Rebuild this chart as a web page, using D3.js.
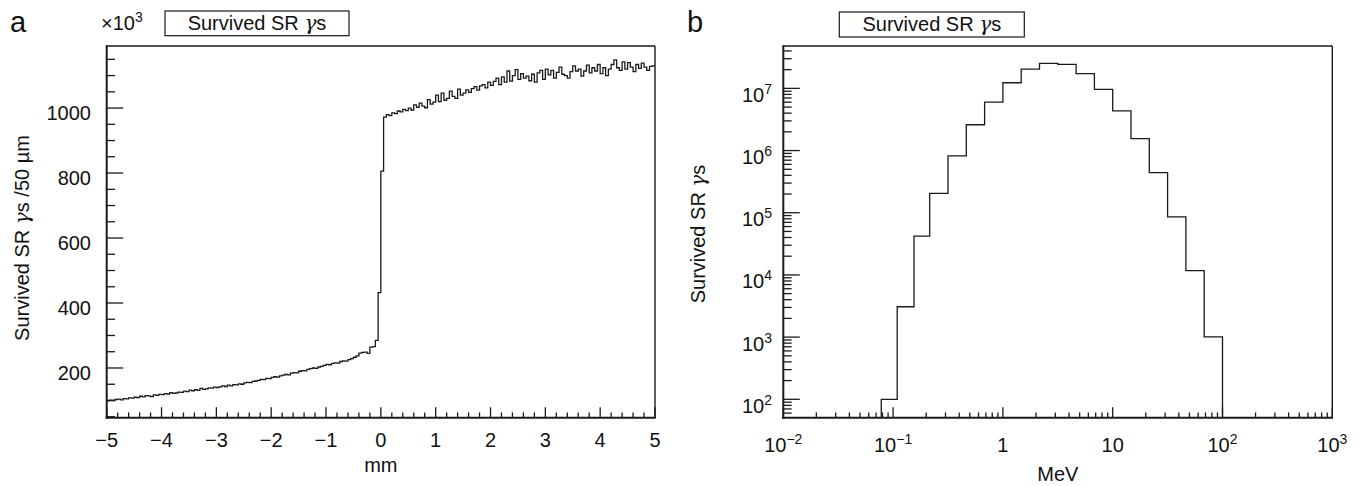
<!DOCTYPE html>
<html>
<head>
<meta charset="utf-8">
<script src="https://cdn.jsdelivr.net/npm/d3@7"></script>
<style>
  html, body { margin: 0; padding: 0; background: #fff; }
  svg { display: block; }
  text { font-family: "Liberation Sans", Arial, sans-serif; fill: #111; }
</style>
</head>
<body>
<svg id="chart" width="1365" height="486"></svg>
<script>
// ---------------- DATA ----------------
// Panel a: survived SR photons per 50 µm bin (x10^3), x from -5 mm to 5 mm
const posRange = [-5, 5];
const binWidthMm = 0.05;
const countsNeg = [
  99,101,100,103,104,102,106,105,108,107,
  110,109,113,111,115,114,112,117,116,119,
  118,121,120,124,122,123,126,125,129,127,
  132,130,133,131,137,134,136,139,138,141,
  140,142,145,143,147,145,149,148,151,150,
  154,156,155,159,160,162,165,164,168,167,
  171,173,172,176,178,180,179,184,186,185,
  190,192,191,196,198,200,199,203,205,208,
  211,210,214,216,215,220,222,221,226,229,
  233,237,246,248,249,245,264,266,285,432
];
const countsPos = [
  806,972,980,977,985,983,991,988,996,992,
  1000,994,1010,1002,1015,1006,1001,1026,1012,1018,
  1040,1020,1046,1024,1030,1052,1036,1030,1058,1040,
  1046,1056,1048,1060,1066,1055,1068,1072,1062,1080,
  1070,1082,1092,1072,1096,1080,1114,1083,1100,1118,
  1088,1106,1092,1098,1084,1104,1080,1108,1116,1088,
  1120,1102,1116,1092,1110,1126,1104,1100,1092,1112,
  1130,1114,1120,1098,1114,1132,1108,1124,1114,1134,
  1106,1124,1100,1120,1134,1148,1124,1116,1142,1120,
  1140,1126,1112,1134,1122,1138,1126,1116,1128,1130
];
const yTicksA = [200, 400, 600, 800, 1000];
const xTicksA = [-5, -4, -3, -2, -1, 0, 1, 2, 3, 4, 5];

// Panel b: survived SR photons per energy bin (MeV)
const energyEdges = [0.078, 0.109, 0.155, 0.2154, 0.3162, 0.4642, 0.6813, 1, 1.468, 2.154,
                     3.162, 4.642, 6.813, 10, 14.68, 21.54, 31.62, 46.42, 68.13, 100];
const photonCounts = [100, 3080, 42200, 2.05e5, 8.2e5, 2.6e6, 6.0e6, 1.23e7, 2.04e7, 2.52e7,
                      2.43e7, 1.72e7, 9.6e6, 4.36e6, 1.55e6, 4.4e5, 8.6e4, 1.17e4, 1010];
const xDecadesB = [-2, -1, 0, 1, 2, 3];
const xLabelsB = [["10", "−2"], ["10", "−1"], ["1", ""], ["10", ""], ["10", "2"], ["10", "3"]];
const yDecadesB = [2, 3, 4, 5, 6, 7];

// text pieces: [text, italic?]
const titleParts = [["Survived SR ", false], ["γ", true], ["s", false]];
const yTitleAParts = [["Survived SR ", false], ["γ", true], ["s /50 µm", false]];
const yTitleBParts = [["Survived SR ", false], ["γ", true], ["s", false]];
const xTitleA = "mm";
const xTitleB = "MeV";

// ---------------- LAYOUT ----------------
const svg = d3.select("#chart");
const ink = "#1a1a1a";
const A = { x0: 106.7, x1: 655, y0: 46, y1: 417.7 };
const B = { x0: 783.3, x1: 1332.3, y0: 46, y1: 417.7 };

const xA = d3.scaleLinear().domain(posRange).range([A.x0, A.x1]);
const yA = d3.scaleLinear().domain([47, 1191]).range([A.y1, A.y0]);
const xB = d3.scaleLog().domain([1e-2, 1e3]).range([B.x0, B.x1]);
const yB = d3.scaleLog().domain([50.6, 4.8e7]).range([B.y1, B.y0]);

function frame(P) {
  const g = svg.append("g");
  g.append("line").attr("x1", P.x0).attr("x2", P.x1).attr("y1", P.y0).attr("y2", P.y0)
    .attr("stroke", ink).attr("stroke-width", 1.4);
  g.append("line").attr("x1", P.x1).attr("x2", P.x1).attr("y1", P.y0).attr("y2", P.y1)
    .attr("stroke", ink).attr("stroke-width", 1.4);
  g.append("line").attr("x1", P.x0).attr("x2", P.x0).attr("y1", P.y0 - 0.7).attr("y2", P.y1 + 1)
    .attr("stroke", ink).attr("stroke-width", 2);
  g.append("line").attr("x1", P.x0 - 1).attr("x2", P.x1 + 0.7).attr("y1", P.y1).attr("y2", P.y1)
    .attr("stroke", ink).attr("stroke-width", 2);
}
function yTick(P, y, len) {
  svg.append("line").attr("x1", P.x0).attr("x2", P.x0 + len).attr("y1", y).attr("y2", y)
    .attr("stroke", ink).attr("stroke-width", 1.3);
}
function xTick(P, x, len) {
  svg.append("line").attr("x1", x).attr("x2", x).attr("y1", P.y1).attr("y2", P.y1 - len)
    .attr("stroke", ink).attr("stroke-width", 1.3);
}
function supText(x, y, base, sup, anchor, size, supSize) {
  const t = svg.append("text").attr("x", x).attr("y", y).attr("text-anchor", anchor)
    .attr("font-size", size);
  t.append("tspan").text(base);
  if (sup) t.append("tspan").attr("dy", -8).attr("font-size", supSize).text(sup);
  return t;
}
function partsText(sel, parts) {
  parts.forEach(([s, it]) => {
    const ts = sel.append("tspan").text(s);
    if (it) ts.attr("font-style", "italic").attr("font-family", "'DejaVu Serif', serif");
  });
  return sel;
}

// ---------------- PANEL A ----------------
frame(A);
d3.range(50, 1191, 50).forEach(v => {
  const major = yTicksA.includes(v);
  yTick(A, yA(v), major ? 16.5 : 8.3);
});
yTicksA.forEach(v => {
  svg.append("text").attr("x", 91).attr("y", yA(v) + 12.3).attr("text-anchor", "end")
    .attr("font-size", 20).text(v);
});
d3.range(-5, 5.001, 0.2).forEach(v => {
  const r = Math.round(v * 10) / 10;
  const major = Math.abs(r - Math.round(r)) < 1e-6;
  xTick(A, xA(r), major ? 10.5 : 5.3);
});
xTicksA.forEach(v => {
  svg.append("text").attr("x", xA(v)).attr("y", 447).attr("text-anchor", "middle")
    .attr("font-size", 20).text(v < 0 ? "−" + Math.abs(v) : String(v));
});
const countsA = countsNeg.concat(countsPos);
{
  let d = "";
  countsA.forEach((c, i) => {
    const xl = xA(posRange[0] + i * binWidthMm);
    const xr = xA(posRange[0] + (i + 1) * binWidthMm);
    const y = yA(c);
    d += (i === 0 ? `M${xl},${y}` : `V${y}`) + `H${xr}`;
  });
  svg.append("path").attr("d", d).attr("fill", "none").attr("stroke", ink)
    .attr("stroke-width", 1.3);
}
svg.append("text").attr("x", xA(0)).attr("y", 472).attr("text-anchor", "middle")
  .attr("font-size", 20).text(xTitleA);
partsText(svg.append("text").attr("transform", "translate(28.5,238) rotate(-90)")
  .attr("text-anchor", "middle").attr("font-size", 20), yTitleAParts);
supText(101, 30, "×10", "3", "start", 20, 14);
svg.append("rect").attr("x", 165).attr("y", 11).attr("width", 184).attr("height", 24.7)
  .attr("fill", "#fff").attr("stroke", ink).attr("stroke-width", 1.2);
partsText(svg.append("text").attr("x", 257).attr("y", 30).attr("text-anchor", "middle")
  .attr("font-size", 20), titleParts);
svg.append("text").attr("x", 10).attr("y", 32).attr("font-size", 29).text("a");

// ---------------- PANEL B ----------------
frame(B);
yDecadesB.forEach(k => yTick(B, yB(Math.pow(10, k)), 16.5));
[1, 2, 3, 4, 5, 6, 7].forEach(k => {
  d3.range(2, 10).forEach(m => {
    const v = m * Math.pow(10, k);
    if (v > yB.domain()[0] && v < yB.domain()[1]) yTick(B, yB(v), 8.3);
  });
});
yDecadesB.forEach(k => {
  supText(772, yB(Math.pow(10, k)) + 13.5, "10", String(k), "end", 20, 14);
});
xDecadesB.forEach(k => xTick(B, xB(Math.pow(10, k)), 10.5));
[-2, -1, 0, 1, 2].forEach(k => {
  d3.range(2, 10).forEach(m => xTick(B, xB(m * Math.pow(10, k)), 5.3));
});
xDecadesB.forEach((k, i) => {
  const [b, s] = xLabelsB[i];
  supText(xB(Math.pow(10, k)), 452, b, s, "middle", 20, 14);
});
{
  let d = `M${xB(energyEdges[0])},${B.y1}`;
  photonCounts.forEach((c, i) => {
    d += `V${yB(c)}H${xB(energyEdges[i + 1])}`;
  });
  d += `V${B.y1}`;
  svg.append("path").attr("d", d).attr("fill", "none").attr("stroke", ink)
    .attr("stroke-width", 1.3);
}
svg.append("text").attr("x", (B.x0 + B.x1) / 2).attr("y", 481).attr("text-anchor", "middle")
  .attr("font-size", 20).text(xTitleB);
partsText(svg.append("text").attr("transform", "translate(705,234) rotate(-90)")
  .attr("text-anchor", "middle").attr("font-size", 20), yTitleBParts);
svg.append("rect").attr("x", 839.3).attr("y", 12).attr("width", 185).attr("height", 25)
  .attr("fill", "#fff").attr("stroke", ink).attr("stroke-width", 1.2);
partsText(svg.append("text").attr("x", 931.8).attr("y", 31).attr("text-anchor", "middle")
  .attr("font-size", 20), titleParts);
svg.append("text").attr("x", 687).attr("y", 32).attr("font-size", 29).text("b");
</script>
</body>
</html>
